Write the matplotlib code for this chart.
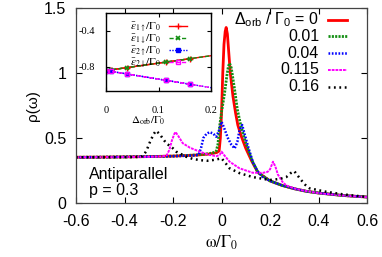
import matplotlib
matplotlib.use('Agg')
import matplotlib.pyplot as plt
import numpy as np

plt.rcParams['font.family'] = ['Liberation Sans', 'DejaVu Sans']
plt.rcParams['axes.unicode_minus'] = False
plt.rcParams['mathtext.fontset'] = 'custom'
plt.rcParams['mathtext.rm'] = 'Liberation Sans'
plt.rcParams['mathtext.it'] = 'Liberation Sans:italic'
plt.rcParams['lines.scale_dashes'] = False

#~~~~~~~~~~~~~~~~~~
# MAIN PANEL DATA  (rho(omega) for each Delta_orb)
#~~~~~~~~~~~~~~~~~~

w_d0 = [-0.6, -0.5, -0.4, -0.3, -0.2, -0.1, -0.05, -0.02, -0.01, -0.005, 0.0, 0.005, 0.01, 0.015,
        0.019, 0.024, 0.03, 0.036, 0.047, 0.058, 0.067, 0.08, 0.1, 0.125, 0.15, 0.2, 0.25, 0.3,
        0.35, 0.4, 0.5, 0.6]
rho_d0 = [0.352, 0.353, 0.355, 0.357, 0.361, 0.369, 0.377, 0.388, 0.40, 0.50, 0.70, 1.0, 1.22, 1.32,
          1.35, 1.30, 1.15, 1.0, 0.82, 0.69, 0.6, 0.52, 0.42, 0.32, 0.235, 0.17, 0.135, 0.11,
          0.09, 0.077, 0.058, 0.046]

w_d001 = [-0.6, -0.5, -0.4, -0.3, -0.2, -0.1, -0.05, -0.03, -0.022, -0.015, -0.008, 0.0, 0.012,
          0.022, 0.028, 0.033, 0.04, 0.054, 0.065, 0.08, 0.1, 0.125, 0.15, 0.2, 0.25, 0.3, 0.35,
          0.4, 0.5, 0.6]
rho_d001 = [0.352, 0.353, 0.355, 0.357, 0.361, 0.37, 0.38, 0.39, 0.40, 0.45, 0.59, 0.70, 0.84,
            0.98, 1.05, 1.075, 1.04, 0.87, 0.72, 0.59, 0.46, 0.33, 0.235, 0.17, 0.135, 0.11, 0.09,
            0.077, 0.058, 0.046]

w_d004 = [-0.6, -0.5, -0.4, -0.3, -0.2, -0.12, -0.095, -0.085, -0.075, -0.063, -0.05, -0.035,
          -0.022, -0.01, 0.0, 0.01, 0.026, 0.04, 0.054, 0.065, 0.075, 0.085, 0.095, 0.11, 0.13,
          0.15, 0.17, 0.2, 0.25, 0.3, 0.35, 0.4, 0.5, 0.6]
rho_d004 = [0.352, 0.353, 0.355, 0.357, 0.36, 0.365, 0.37, 0.42, 0.50, 0.53, 0.545, 0.535, 0.51,
            0.56, 0.625, 0.58, 0.50, 0.45, 0.42, 0.47, 0.57, 0.60, 0.53, 0.43, 0.31, 0.24, 0.2,
            0.17, 0.135, 0.11, 0.09, 0.077, 0.058, 0.046]

w_d0115 = [-0.6, -0.5, -0.4, -0.3, -0.25, -0.235, -0.225, -0.215, -0.205, -0.195, -0.19, -0.18,
           -0.16, -0.13, -0.09, -0.05, -0.022, -0.008, 0.0, 0.01, 0.033, 0.074, 0.128, 0.17, 0.19,
           0.2, 0.212, 0.222, 0.232, 0.25, 0.267, 0.3, 0.334, 0.4, 0.5, 0.6]
rho_d0115 = [0.352, 0.353, 0.354, 0.355, 0.358, 0.362, 0.37, 0.41, 0.48, 0.53, 0.546, 0.52, 0.46,
             0.425, 0.395, 0.37, 0.36, 0.37, 0.395, 0.37, 0.318, 0.267, 0.233, 0.232, 0.24, 0.26,
             0.318, 0.28, 0.22, 0.165, 0.135, 0.112, 0.097, 0.076, 0.058, 0.045]

w_d016 = [-0.6, -0.5, -0.4, -0.35, -0.325, -0.31, -0.295, -0.28, -0.27, -0.255, -0.24, -0.228,
          -0.2, -0.187, -0.16, -0.146, -0.12, -0.09, -0.06, -0.037, -0.015, 0.0, 0.015, 0.033,
          0.074, 0.128, 0.198, 0.24, 0.267, 0.285, 0.3, 0.31, 0.328, 0.345, 0.363, 0.43, 0.5, 0.6]
rho_d016 = [0.352, 0.352, 0.352, 0.354, 0.36, 0.40, 0.47, 0.53, 0.556, 0.53, 0.49, 0.46, 0.42,
            0.395, 0.37, 0.356, 0.34, 0.33, 0.325, 0.33, 0.338, 0.344, 0.31, 0.267, 0.23, 0.2,
            0.177, 0.185, 0.20, 0.23, 0.245, 0.22, 0.177, 0.14, 0.113, 0.087, 0.067, 0.046]

legend_labels = ['$\\Delta_{\\mathrm{orb}}$ / $\\Gamma_0$ = 0', '0.01', '0.04', '0.115', '0.16']

xticks = [-0.6, -0.4, -0.2, 0, 0.2, 0.4, 0.6]
xtick_labels = ['-0.6', '-0.4', '-0.2', '0', '0.2', '0.4', '0.6']
yticks = [0, 0.5, 1, 1.5]
ytick_labels = ['0', '0.5', '1', '1.5']

#~~~~~~~~~~~~~~~~~~
# INSET DATA  (level energies vs Delta_orb)
#~~~~~~~~~~~~~~~~~~

d_orb = [0.0, 0.01, 0.04, 0.115, 0.16]
eps_1up = [-0.84, -0.832, -0.807, -0.745, -0.708]
eps_1dn = [-0.84, -0.832, -0.807, -0.745, -0.708]
eps_2up = [-0.84, -0.85, -0.878, -0.949, -0.992]
eps_2dn = [-0.84, -0.85, -0.878, -0.949, -0.992]
# straight fits drawn over full inset range
fit_x = [0.0, 0.2]
fit_up = [-0.84, -0.675]
fit_dn = [-0.84, -1.03]

inset_xticks = [0, 0.1, 0.2]
inset_xtick_labels = ['0', '0.1', '0.2']
inset_yticks = [-0.4, -0.8]
inset_ytick_labels = ['-0.4', '-0.8']

#~~~~~~~~~~
# PLOTTING
#~~~~~~~~~~

green = '#138f13'
# (color, lw, dashes) per curve, None = solid
styles = [('red', 2.0, None),
          (green, 2.0, (1.5, 0.9)),
          ('blue', 1.8, (1.2, 1.2)),
          ('magenta', 1.4, (2.0, 0.7)),
          ('black', 1.8, (1.3, 2.6))]

fig = plt.figure(figsize=(3.82, 2.57), dpi=100)
ax = fig.add_axes([0.199, 0.210, 0.762, 0.759])

curves = [(w_d0, rho_d0), (w_d001, rho_d001), (w_d004, rho_d004), (w_d0115, rho_d0115), (w_d016, rho_d016)]
for (xw, yr), (c, lw, ds) in zip(curves, styles):
	if ds is None:
		ax.plot(xw, yr, color=c, lw=lw)
	else:
		ax.plot(xw, yr, color=c, lw=lw, dashes=ds)

ax.set_xlim(-0.6, 0.6)
ax.set_ylim(0, 1.5)
ax.set_xticks(xticks)
ax.set_xticklabels(xtick_labels)
ax.set_yticks(yticks)
ax.set_yticklabels(ytick_labels)
ax.tick_params(direction='in', top=True, right=True, length=4, labelsize=11.5)
ax.tick_params(axis='x', pad=8)
ax.tick_params(axis='y', pad=7)
for sp in ax.spines.values():
	sp.set_linewidth(0.9)
	sp.set_color('#444444')
ax.set_xlabel('$\\mathrm{\\omega}/\\Gamma_0$', fontsize=12, math_fontfamily='stix', labelpad=3)
ax.set_ylabel('\u03c1(\u03c9)', fontsize=11, labelpad=3)

# legend, right-aligned text as in gnuplot
rows = [0.94, 0.856, 0.769, 0.682, 0.595]
for (c, lw, ds), lab, yy in zip(styles, legend_labels, rows):
	ax.text(0.835, yy, lab, transform=ax.transAxes, ha='right', va='center', fontsize=11.5)
	if ds is None:
		ax.plot([0.867, 0.931], [yy, yy], transform=ax.transAxes, color=c, lw=lw)
	else:
		ax.plot([0.867, 0.931], [yy, yy], transform=ax.transAxes, color=c, lw=lw, dashes=ds)

ax.text(0.045, 0.144, 'Antiparallel', transform=ax.transAxes, ha='left', va='center', fontsize=11.5)
ax.text(0.045, 0.062, 'p = 0.3', transform=ax.transAxes, ha='left', va='center', fontsize=11.5)

# inset
axi = fig.add_axes([0.2775, 0.646, 0.2749, 0.3035])
axi.plot(fit_x, fit_up, color='red', lw=1.0)
axi.plot(fit_x, fit_up, color=green, lw=1.0, dashes=(3, 1.5))
axi.plot(fit_x, fit_dn, color='blue', lw=1.0, dashes=(1, 1))
axi.plot(fit_x, fit_dn, color='magenta', lw=1.0, dashes=(3, 1.5))
h1, = axi.plot(d_orb, eps_1up, color='red', lw=1.0, marker='+', ms=4.5, mew=1.0, ls='-')
h2, = axi.plot(d_orb, eps_1dn, color=green, lw=1.0, marker='x', ms=3.5, mew=1.2, dashes=(3, 1.5))
h3, = axi.plot(d_orb, eps_2up, color='blue', lw=1.0, marker='s', ms=3, dashes=(1, 1))
h4, = axi.plot(d_orb, eps_2dn, color='magenta', lw=1.0, marker='s', ms=3.5, mfc='none', mew=1.0,
               dashes=(3, 1.5))
axi.set_xlim(0, 0.2)
axi.set_ylim(-1.067, -0.2)
axi.set_xticks(inset_xticks)
axi.set_xticklabels(inset_xtick_labels, family='Liberation Serif')
axi.set_yticks(inset_yticks)
axi.set_yticklabels(inset_ytick_labels, family='Liberation Serif')
axi.tick_params(direction='in', top=True, right=True, length=3, labelsize=7.5, width=0.8)
axi.tick_params(axis='x', pad=11)
axi.tick_params(axis='y', pad=8)
for sp in axi.spines.values():
	sp.set_linewidth(1.0)
axi.set_xlabel('$\\Delta_{\\mathrm{orb}}/\\Gamma_0$', fontsize=8, math_fontfamily='stix')
axi.xaxis.set_label_coords(0.40, -0.30)

inset_labels = ['$\\bar{\\varepsilon}_{1\\uparrow}/\\Gamma_0$', '$\\bar{\\varepsilon}_{1\\downarrow}/\\Gamma_0$',
                '$\\bar{\\varepsilon}_{2\\uparrow}/\\Gamma_0$', '$\\bar{\\varepsilon}_{2\\downarrow}/\\Gamma_0$']
leg = axi.legend([h1, h2, h3, h4], inset_labels, loc='upper left', bbox_to_anchor=(0.16, 0.99),
                 frameon=False, markerfirst=False, numpoints=1, handlelength=1.6,
                 handletextpad=0.7, labelspacing=-0.1, borderpad=0.15,
                 prop={'size': 8})
for t in leg.get_texts():
	t.set_math_fontfamily('stix')

plt.savefig('out.png', dpi=100)
